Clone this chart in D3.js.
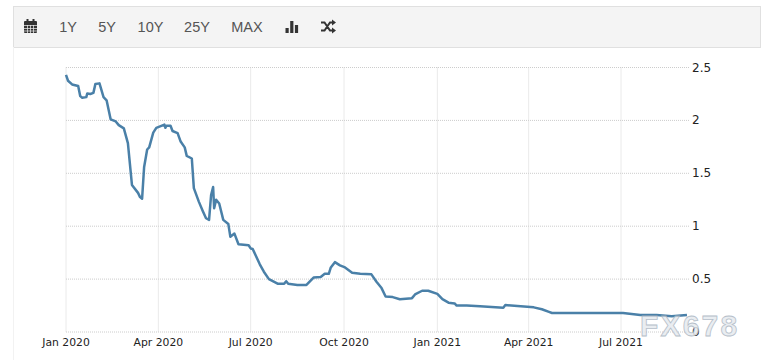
<!DOCTYPE html>
<html>
<head>
<meta charset="utf-8">
<script src="https://cdn.jsdelivr.net/npm/d3@7"></script>
<style>
    html, body { margin: 0; padding: 0; background: #fff; }
    svg { display: block; }
    .tick-x { font: 10.8px "DejaVu Sans", sans-serif; fill: #222; }
    .tick-y { font: 12px "DejaVu Sans", sans-serif; fill: #222; }
    .btn { font: 14.5px "Liberation Sans", sans-serif; fill: #555; }
    .mark { font: bold 30px "Liberation Sans", sans-serif; letter-spacing: 2.2px; fill: #e6eaef; stroke: #a9b4c0; stroke-width: 0.8px; opacity: 0.85; }
</style>
</head>
<body>
<svg id="chart" width="768" height="360"></svg>
<script>
// Days since 1 Jan 2020
const days = [0, 2, 6, 12, 14, 16, 20, 21, 24, 27, 29, 33, 37, 40, 44, 49, 52, 57, 61, 65, 71, 73, 75, 77, 80, 82, 86, 89,
    97, 98, 99, 103, 105, 110, 113, 117, 119, 124, 126, 131, 135, 138, 141, 143, 145, 146, 148, 151, 155, 160, 162, 166, 170,
    180, 182, 184, 191, 195, 200, 209, 215, 217, 219, 228, 237, 244, 251, 255, 259, 261, 265, 270, 275, 282, 290,
    301, 306, 311, 315, 322, 329, 341, 344, 351, 357, 366, 371, 377, 383, 385, 395, 408, 431, 433, 445, 461, 469, 476, 479,
    507, 549, 566, 582, 597, 612];

const yields = [2.43, 2.375, 2.34, 2.325, 2.23, 2.215, 2.22, 2.255, 2.25, 2.26, 2.345, 2.35, 2.22, 2.19, 2.01, 1.99, 1.955, 1.925, 1.785, 1.39, 1.315, 1.275, 1.26, 1.56, 1.725, 1.745, 1.885, 1.93,
    1.96, 1.93, 1.95, 1.95, 1.90, 1.88, 1.80, 1.745, 1.665, 1.64, 1.36, 1.23, 1.14, 1.075, 1.06, 1.295, 1.37, 1.17, 1.25, 1.215, 1.06, 1.02, 0.90, 0.93, 0.83,
    0.82, 0.79, 0.785, 0.64, 0.57, 0.50, 0.455, 0.455, 0.48, 0.455, 0.445, 0.445, 0.515, 0.52, 0.55, 0.55, 0.61, 0.66, 0.63, 0.61, 0.56, 0.55,
    0.545, 0.475, 0.415, 0.335, 0.33, 0.31, 0.32, 0.355, 0.39, 0.39, 0.36, 0.31, 0.277, 0.27, 0.25, 0.25, 0.243, 0.23, 0.255, 0.245, 0.233, 0.215, 0.19, 0.18,
    0.18, 0.18, 0.16, 0.16, 0.15, 0.16];

const xTicks = ['2020-01-01', '2020-04-01', '2020-07-01', '2020-10-01', '2021-01-01', '2021-04-01', '2021-07-01'];
const yTicks = [0, 0.5, 1, 1.5, 2, 2.5];
const buttons = ['1Y', '5Y', '10Y', '25Y', 'MAX'];
const buttonX = [68, 107, 150.5, 197, 247];

const start = new Date(2020, 0, 1);

const svg = d3.select('#chart');

const x = d3.scaleTime()
    .domain([start, new Date(2021, 8, 7)])
    .range([66, 690]);

const y = d3.scaleLinear()
    .domain([0, 2.5])
    .range([332, 67.5]);

// Toolbar
svg.append('rect')
    .attr('x', 13.5).attr('y', 6.5)
    .attr('width', 747).attr('height', 41)
    .attr('fill', '#f4f4f4')
    .attr('stroke', '#e0e0e0');

svg.append('line')
    .attr('x1', 13.5).attr('x2', 13.5)
    .attr('y1', 47).attr('y2', 360)
    .attr('stroke', '#f2f2f2');

svg.selectAll('.btn')
    .data(buttons)
    .join('text')
    .attr('class', 'btn')
    .attr('x', (d, i) => buttonX[i])
    .attr('y', 32)
    .attr('text-anchor', 'middle')
    .text(d => d);

// Calendar icon
const cal = svg.append('g').attr('fill', '#333');
cal.append('rect').attr('x', 24).attr('y', 21).attr('width', 13).attr('height', 12).attr('rx', 1);
cal.append('rect').attr('x', 26.5).attr('y', 19).attr('width', 2).attr('height', 3);
cal.append('rect').attr('x', 32.5).attr('y', 19).attr('width', 2).attr('height', 3);
svg.append('path')
    .attr('d', 'M24 25.5H37M24 28.5H37M24 31H37M27.5 25V33M30.5 25V33M33.5 25V33')
    .attr('stroke', '#f4f4f4')
    .attr('stroke-width', 0.7);

// Bar icon
const barHeights = [5, 12, 8];
svg.append('g').selectAll('rect')
    .data(barHeights)
    .join('rect')
    .attr('x', (d, i) => 285.5 + i * 4.7)
    .attr('y', d => 33 - d)
    .attr('width', 3.2)
    .attr('height', d => d)
    .attr('fill', '#333');

// Shuffle icon
svg.append('path')
    .attr('d', 'M321 22.5H324.5L330 30.5H333M321 30.5H324.5L330 22.5H333')
    .attr('fill', 'none')
    .attr('stroke', '#333')
    .attr('stroke-width', 2);
svg.append('path')
    .attr('d', 'M332 19.5L336 22.5L332 25.5ZM332 27.5L336 30.5L332 33.5Z')
    .attr('fill', '#333');

// Grid
svg.append('g').selectAll('line')
    .data(yTicks)
    .join('line')
    .attr('x1', 66).attr('x2', 690)
    .attr('y1', d => y(d)).attr('y2', d => y(d))
    .attr('stroke', '#cccccc')
    .attr('stroke-dasharray', '1,1');

svg.append('g').selectAll('line')
    .data(xTicks)
    .join('line')
    .attr('x1', d => x(new Date(d + 'T00:00:00'))).attr('x2', d => x(new Date(d + 'T00:00:00')))
    .attr('y1', 67.5).attr('y2', 332)
    .attr('stroke', '#d4d4d4')
    .attr('stroke-dasharray', '1,1');

// Axis labels
svg.selectAll('.tick-y')
    .data(yTicks)
    .join('text')
    .attr('class', 'tick-y')
    .attr('x', 692)
    .attr('y', d => y(d) + 4)
    .text(d => d);

svg.selectAll('.tick-x')
    .data(xTicks)
    .join('text')
    .attr('class', 'tick-x')
    .attr('x', d => x(new Date(d + 'T00:00:00')))
    .attr('y', 346)
    .attr('text-anchor', 'middle')
    .text(d => d3.timeFormat('%b %Y')(new Date(d + 'T00:00:00')));

// Yield line
const line = d3.line()
    .x(d => x(d3.timeDay.offset(start, d)))
    .y((d, i) => y(yields[i]));

svg.append('path')
    .datum(days)
    .attr('d', line)
    .attr('fill', 'none')
    .attr('stroke', '#4a80a8')
    .attr('stroke-width', 2.5)
    .attr('stroke-linejoin', 'round');

// Watermark
svg.append('text')
    .attr('class', 'mark')
    .attr('x', 640)
    .attr('y', 336)
    .text('FX678');
</script>
</body>
</html>
